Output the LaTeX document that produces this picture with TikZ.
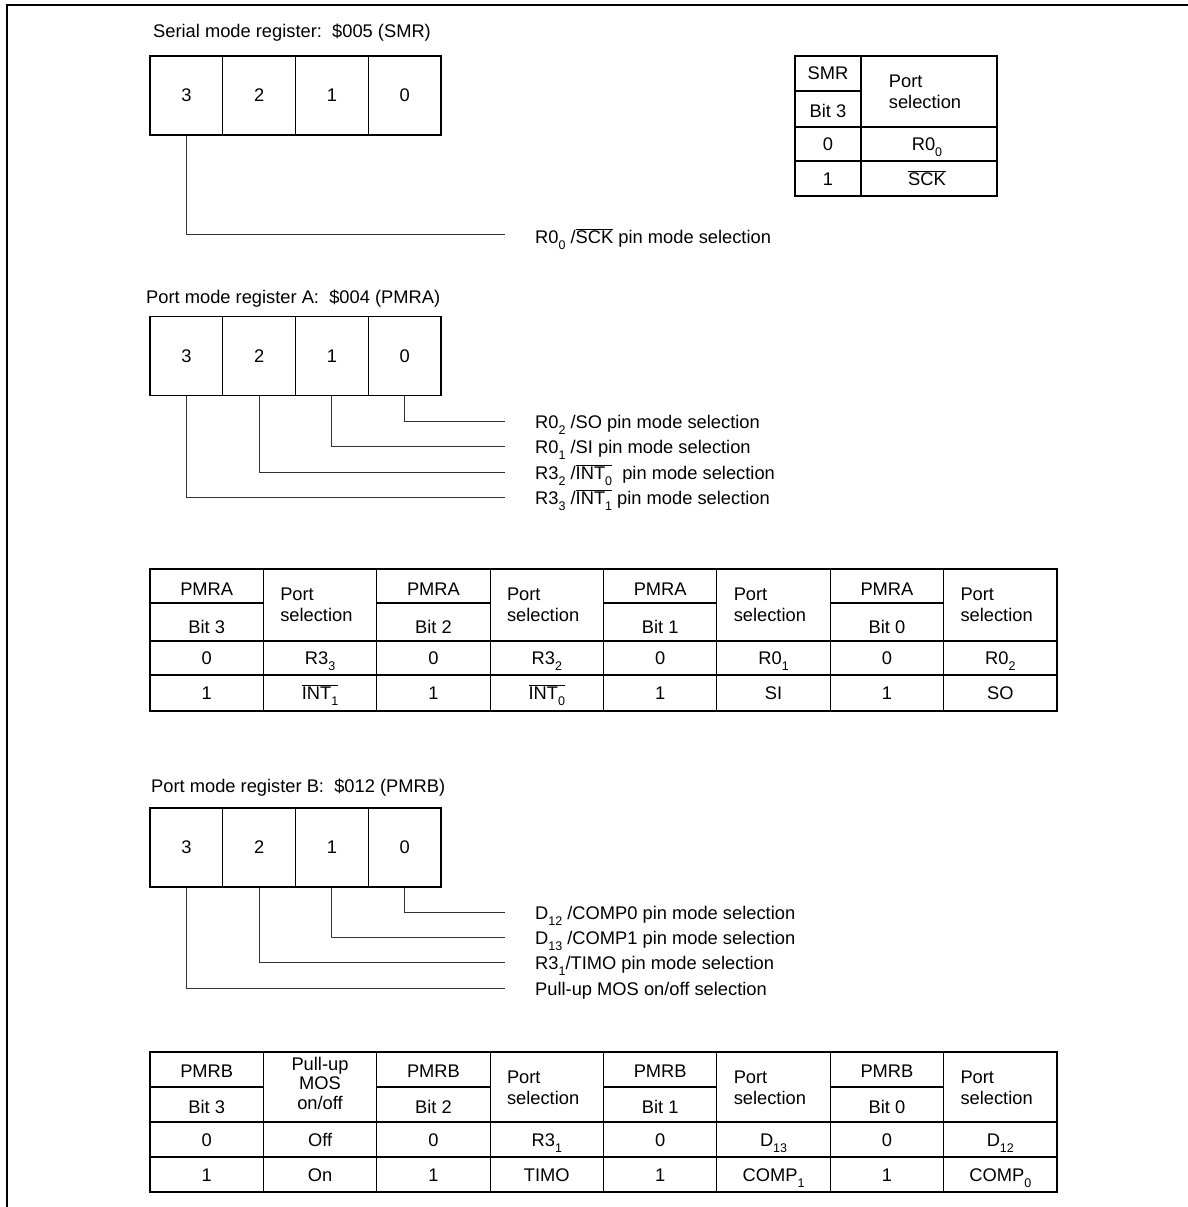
\documentclass[tikz,border=0pt]{standalone}
\usepackage{fontspec}
\setmainfont{Liberation Sans}
\newcommand\sbs[1]{\raisebox{-0.65ex}{\fontsize{12.5}{12.5}\selectfont #1}}
\newcommand\ovl[1]{$\overline{\hbox{#1}}$}
\tikzset{
 regcell/.style={draw, line width=1.2pt, minimum width=72.75pt, minimum height=79pt, inner sep=0pt},
 conn/.style={line width=0.9pt, draw=black!80},
 lbl/.style={anchor=base west, inner sep=0pt},
 tbl/.style={line width=1.2pt},
 ttxt/.style={anchor=base, inner sep=0pt},
 ptxt/.style={align=left, inner sep=0pt, font=\fontsize{18.3}{21}\selectfont},
 ttl/.style={anchor=west, inner sep=0pt},
}
\begin{document}
\begin{tikzpicture}[x=1pt,y=-1pt,font=\fontsize{18.3}{21}\selectfont]
\useasboundingbox (0,0) rectangle (1188,1207);
\draw[line width=1.3pt] (7,1207) -- (7,5) -- (1188,5);

% ---------- SMR ----------
\node[ttl] (tsmr) at (153,33) {Serial mode register:\ \ \$005 (SMR)};
\foreach \b [count=\i from 0] in {3,2,1,0}
  \node[regcell] (s\b) at ({186.4+72.75*\i},95.5) {\b};
\coordinate (se3) at (505,234);
\draw[conn] (s3.south) |- (se3);
\node[lbl] (sl3) at (535,243) {R0\sbs{0} /\ovl{SCK} pin mode selection};

% SMR table
\draw[tbl] (795,56) rectangle (997,196);
\draw[tbl] (861,56) -- (861,196);
\draw[tbl] (795,91) -- (861,91);
\draw[tbl] (795,127) -- (997,127);
\draw[tbl] (795,161) -- (997,161);
\node[ttxt] (smrh1) at (828,80) {SMR};
\node[ttxt] (smrh2) at (828,117) {Bit 3};
\node[ptxt] (smrp) at (925,92) {Port\\selection};
\node[ttxt] (smr00) at (828,150) {0};
\node[ttxt] (smr01) at (927,150) {R0\sbs{0}};
\node[ttxt] (smr10) at (828,185) {1};
\node[ttxt] (smr11) at (927,185) {\ovl{SCK}};

% ---------- PMRA ----------
\node[ttl] (tpmra) at (146,299) {Port mode register A:\ \ \$004 (PMRA)};
\foreach \b [count=\i from 0] in {3,2,1,0}
  \node[regcell] (a\b) at ({186.4+72.75*\i},356) {\b};
\foreach \b/\y in {0/421,1/446.5,2/472,3/497.5}{
  \coordinate (ae\b) at (505,\y);
  \draw[conn] (a\b.south) |- (ae\b);
}
\node[lbl] (al0) at (535,428) {R0\sbs{2} /SO pin mode selection};
\node[lbl] (al1) at (535,453.5) {R0\sbs{1} /SI pin mode selection};
\node[lbl] (al2) at (535,479) {R3\sbs{2} /\ovl{INT\sbs{0}} \ pin mode selection};
\node[lbl] (al3) at (535,504.5) {R3\sbs{3} /\ovl{INT\sbs{1}} pin mode selection};

% PMRA table
\draw[tbl] (150,569) rectangle (1057,711);
\draw[tbl] (150,641) -- (1057,641);
\draw[tbl] (150,675) -- (1057,675);
\foreach \k in {1,...,7} \draw[tbl] ({150+113.375*\k},569) -- ({150+113.375*\k},711);
\foreach \k in {0,2,4,6} \draw[tbl] ({150+113.375*\k},603) -- ({150+113.375*(\k+1)},603);
\foreach \k/\n in {0/3,2/2,4/1,6/0}{
  \node[ttxt] (pah\k) at ({206.7+113.375*\k},595) {PMRA};
  \node[ttxt] (pab\k) at ({206.7+113.375*\k},633) {Bit \n};
}
\foreach \k in {1,3,5,7}
  \node[ptxt] (pap\k) at ({203+113.375*\k},605) {Port\\selection};
\foreach \k/\t in {0/0,1/{R3\sbs{3}},2/0,3/{R3\sbs{2}},4/0,5/{R0\sbs{1}},6/0,7/{R0\sbs{2}}}
  \node[ttxt] (par0\k) at ({206.7+113.375*\k},664) {\t};
\foreach \k/\t in {0/1,1/{\ovl{INT\sbs{1}}},2/1,3/{\ovl{INT\sbs{0}}},4/1,5/SI,6/1,7/SO}
  \node[ttxt] (par1\k) at ({206.7+113.375*\k},699) {\t};

% ---------- PMRB ----------
\node[ttl] (tpmrb) at (151,788) {Port mode register B:\ \ \$012 (PMRB)};
\foreach \b [count=\i from 0] in {3,2,1,0}
  \node[regcell] (b\b) at ({186.4+72.75*\i},847.5) {\b};
\foreach \b/\y in {0/912,1/937.5,2/962.5,3/988}{
  \coordinate (be\b) at (505,\y);
  \draw[conn] (b\b.south) |- (be\b);
}
\node[lbl] (bl0) at (535,919) {D\sbs{12} /COMP0 pin mode selection};
\node[lbl] (bl1) at (535,944.5) {D\sbs{13} /COMP1 pin mode selection};
\node[lbl] (bl2) at (535,969.5) {R3\sbs{1}/TIMO pin mode selection};
\node[lbl] (bl3) at (535,995) {Pull-up MOS on/off selection};

% PMRB table
\draw[tbl] (150,1052) rectangle (1057,1192);
\draw[tbl] (150,1122) -- (1057,1122);
\draw[tbl] (150,1157) -- (1057,1157);
\foreach \k in {1,...,7} \draw[tbl] ({150+113.375*\k},1052) -- ({150+113.375*\k},1192);
\foreach \k in {0,2,4,6} \draw[tbl] ({150+113.375*\k},1087) -- ({150+113.375*(\k+1)},1087);
\foreach \k/\n in {0/3,2/2,4/1,6/0}{
  \node[ttxt] (pbh\k) at ({206.7+113.375*\k},1077) {PMRB};
  \node[ttxt] (pbb\k) at ({206.7+113.375*\k},1113) {Bit \n};
}
\node[align=center, inner sep=0pt, font=\fontsize{18.3}{19.5}\selectfont] (pbpu) at (320,1083) {Pull-up\\MOS\\on/off};
\foreach \k in {3,5,7}
  \node[ptxt] (pbp\k) at ({203+113.375*\k},1088) {Port\\selection};
\foreach \k/\t in {0/0,1/Off,2/0,3/{R3\sbs{1}},4/0,5/{D\sbs{13}},6/0,7/{D\sbs{12}}}
  \node[ttxt] (pbr0\k) at ({206.7+113.375*\k},1146) {\t};
\foreach \k/\t in {0/1,1/On,2/1,3/TIMO,4/1,5/{COMP\sbs{1}},6/1,7/{COMP\sbs{0}}}
  \node[ttxt] (pbr1\k) at ({206.7+113.375*\k},1181) {\t};
\end{tikzpicture}
\end{document}
